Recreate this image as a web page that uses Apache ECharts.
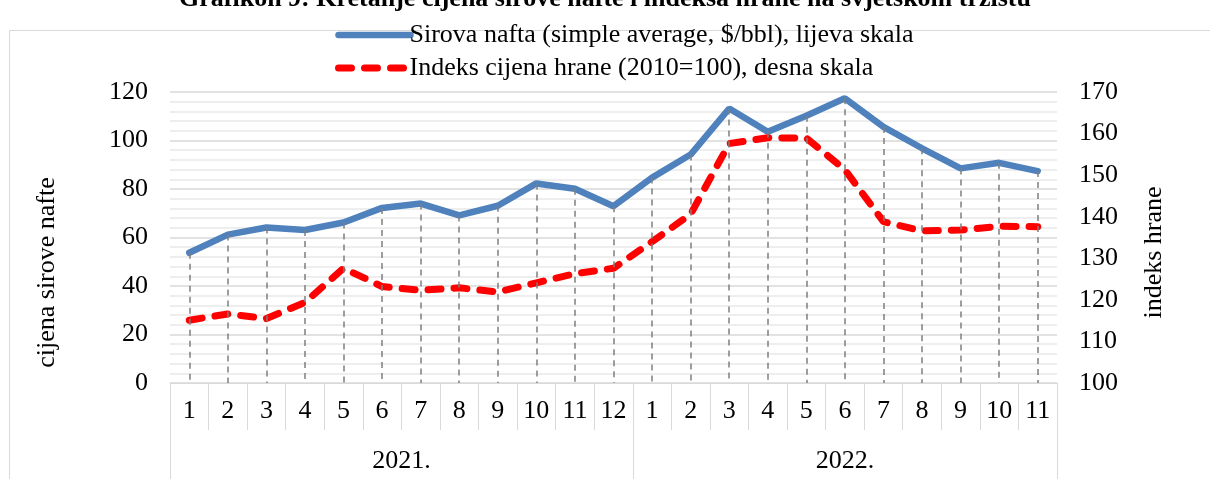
<!DOCTYPE html>
<html>
<head>
<meta charset="utf-8">
<title>Grafikon 9</title>
<script src="https://cdn.jsdelivr.net/npm/echarts@6/dist/echarts.min.js"></script>
<style>
    html, body { margin: 0; padding: 0; background: #fff; }
    #chart { width: 1210px; height: 479px; }
</style>
</head>
<body>
<div id="chart"></div>
<script>
// mjeseci (dvije godine)
var months = ['1','2','3','4','5','6','7','8','9','10','11','12','1','2','3','4','5','6','7','8','9','10','11'];
var years = ['2021.', '2022.'];
var yearMonths = [12, 11];
// sirova nafta, $/bbl (lijeva skala)
var oilPrice = [53.7, 61.2, 64.1, 63.1, 66.2, 72.2, 74.0, 69.1, 73.1, 82.3, 80.1, 72.9,
                84.7, 94.2, 113.2, 103.6, 110.2, 117.4, 105.6, 96.8, 88.5, 90.8, 87.4];
// indeks cijena hrane, 2010=100 (desna skala)
var foodIndex = [115.1, 116.6, 115.5, 119.4, 127.6, 123.2, 122.3, 122.9, 121.9, 124.1, 126.3, 127.6,
                 134.0, 140.6, 157.6, 159.0, 158.9, 151.3, 138.8, 136.6, 136.8, 137.7, 137.6];
var leftTicks = {min: 0, max: 120, interval: 20};
var rightTicks = {min: 100, max: 170, interval: 10};

(function(){
    var font = '"Liberation Serif", "Times New Roman", serif';
    var fs = 26;
    var chart = echarts.init(document.getElementById('chart'));

    // granice i sredine godina na donjoj osi
    var yearEdges = [0], yearMids = [], acc = 0;
    yearMonths.forEach(function(n){
        yearMids.push(acc + n / 2);
        acc += n;
        yearEdges.push(acc);
    });

    // okomite isprekidane linije od nafte do osi
    var dropLines = oilPrice.map(function(v, i){
        return [{coord: [i, v]}, {coord: [i, 0]}];
    });

    var oilName = 'Sirova nafta (simple average, $/bbl), lijeva skala';
    var foodName = 'Indeks cijena hrane (2010=100), desna skala';
    var oilLine = {color: '#4f81bd', width: 6.5, cap: 'round'};
    var foodLine = {color: '#ff0000', width: 7, type: [13, 13], cap: 'round'};

    var option = {
        animation: false,
        textStyle: {fontFamily: font},
        title: {
            text: 'Grafikon 9: Kretanje cijena sirove nafte i indeksa hrane na svjetskom tržištu',
            left: 'center',
            top: -19,
            textStyle: {fontFamily: font, fontSize: 26, fontWeight: 'bold', color: '#000'}
        },
        graphic: [{
            type: 'rect',
            shape: {x: 9.5, y: 30.5, width: 1220, height: 470},
            style: {fill: 'none', stroke: '#d9d9d9', lineWidth: 1},
            silent: true
        }],
        legend: {
            orient: 'vertical',
            left: 330,
            top: 17,
            itemWidth: 72,
            itemHeight: 10,
            itemGap: 7,
            data: [
                {name: oilName, itemStyle: {opacity: 0}, lineStyle: oilLine},
                {name: foodName, itemStyle: {opacity: 0}, lineStyle: foodLine}
            ],
            textStyle: {fontFamily: font, fontSize: fs, color: '#000', padding: [0, 0, 0, -6]}
        },
        grid: {left: 170, right: 153, top: 92, bottom: 96},
        xAxis: [{
            type: 'category',
            data: months,
            boundaryGap: true,
            axisLine: {lineStyle: {color: '#d9d9d9', width: 1}},
            axisTick: {show: true, interval: 0, length: 47, lineStyle: {color: '#d9d9d9'}},
            axisLabel: {interval: 0, margin: 15, fontSize: fs, color: '#000', fontFamily: font}
        }, {
            type: 'value',
            position: 'bottom',
            offset: 47,
            min: 0,
            max: months.length,
            axisLine: {show: false},
            splitLine: {show: false},
            axisTick: {show: true, length: 52, customValues: yearEdges, lineStyle: {color: '#d9d9d9'}},
            axisLabel: {
                customValues: yearMids,
                margin: 18,
                fontSize: fs,
                color: '#000',
                fontFamily: font,
                formatter: function(v){ return years[yearMids.indexOf(v)]; }
            }
        }],
        yAxis: [{
            type: 'value',
            min: leftTicks.min,
            max: leftTicks.max,
            interval: leftTicks.interval,
            name: 'cijena sirove nafte',
            nameLocation: 'middle',
            nameGap: 110,
            nameRotate: 90,
            nameTextStyle: {fontFamily: font, fontSize: fs, color: '#000', padding: [0, 70, 0, 0]},
            axisLine: {show: false},
            axisTick: {show: false},
            axisLabel: {fontSize: fs, color: '#000', fontFamily: font, margin: 22},
            splitLine: {lineStyle: {color: '#d9d9d9', width: 1.5}},
            minorTick: {show: false, splitNumber: 5},
            minorSplitLine: {show: true, lineStyle: {color: '#e9e9e9', width: 1.5}}
        }, {
            type: 'value',
            min: rightTicks.min,
            max: rightTicks.max,
            interval: rightTicks.interval,
            name: 'indeks hrane',
            nameLocation: 'middle',
            nameGap: 84,
            nameRotate: 90,
            nameTextStyle: {fontFamily: font, fontSize: fs, color: '#000', padding: [0, 30, 0, 0]},
            axisLine: {show: false},
            axisTick: {show: false},
            axisLabel: {fontSize: fs, color: '#000', fontFamily: font, margin: 22},
            splitLine: {show: false}
        }],
        series: [{
            name: 'drop',
            type: 'line',
            data: oilPrice,
            symbol: 'none',
            silent: true,
            z: 1,
            lineStyle: {opacity: 0},
            markLine: {
                silent: true,
                symbol: ['none', 'none'],
                label: {show: false},
                lineStyle: {color: '#7f7f7f', type: [6, 5], width: 1.5},
                data: dropLines
            }
        }, {
            name: oilName,
            type: 'line',
            yAxisIndex: 0,
            data: oilPrice,
            symbol: 'none',
            z: 3,
            lineStyle: oilLine,
            itemStyle: {color: '#4f81bd'}
        }, {
            name: foodName,
            type: 'line',
            yAxisIndex: 1,
            data: foodIndex,
            symbol: 'none',
            z: 4,
            lineStyle: foodLine,
            itemStyle: {color: '#ff0000'}
        }]
    };
    chart.setOption(option);
    window.addEventListener('resize', function(){
        chart.resize();
    });
})();
</script>
</body>
</html>
